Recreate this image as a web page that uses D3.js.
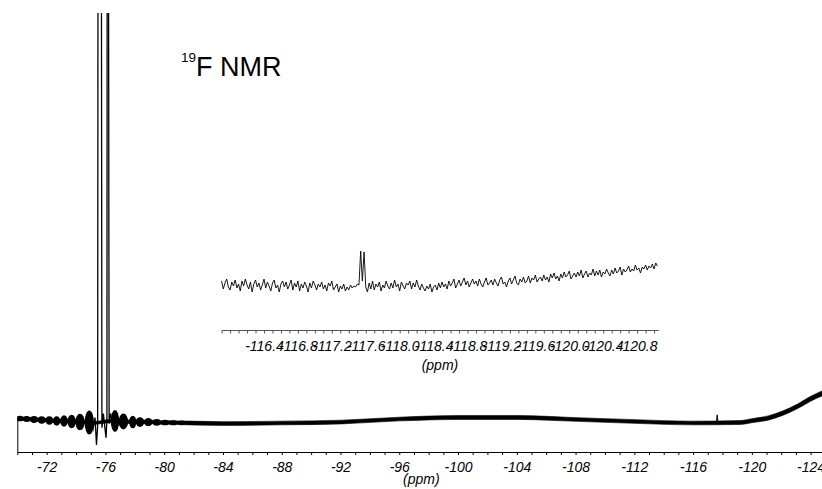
<!DOCTYPE html>
<html>
<head>
<meta charset="utf-8">
<script src="https://cdn.jsdelivr.net/npm/d3@7"></script>
<style>
body { margin: 0; background: #fff; }
text { font-family: "Liberation Sans", Arial, sans-serif; }
</style>
</head>
<body>
<svg id="chart" width="822" height="489"></svg>
<script>
// main spectrum baseline: ppm, centre of trace, half thickness (noise)
var mainPpm = [-70.00, -70.41, -70.88, -71.40, -71.92, -72.43, -72.93, -73.44, -73.98, -74.58,
               -75.15, -75.80, -76.38, -76.94, -77.54, -78.10, -78.62, -79.20, -79.78, -80.33,
               -80.91, -81.76, -84.00, -88.02, -92.10, -96.05, -100.00, -104.08, -108.10, -112.05,
               -116.00, -119.20, -120.09, -121.11, -122.13, -123.15, -123.97, -125.00];
var mainMid = [0.52, 0.42, 0.17, -0.07, -0.32, -0.57, -0.71, -0.81, -1.06, -1.31,
               -1.70, -1.20, -0.71, -0.96, -1.06, -1.21, -1.21, -1.21, -1.45, -1.45,
               -1.55, -1.70, -1.95, -1.70, -1.21, 0.27, 1.01, 1.01, 0.03, -0.96,
               -1.70, -1.45, -0.47, 0.76, 3.23, 6.68, 10.13, 13.59];
var mainHalf = [0.85, 0.85, 0.85, 0.85, 0.85, 0.85, 0.85, 0.85, 0.85, 0.85,
                0.70, 0.70, 0.85, 0.85, 0.85, 0.85, 0.85, 0.85, 0.85, 0.85,
                0.88, 0.94, 0.92, 0.92, 0.92, 0.92, 0.96, 0.96, 0.92, 0.92,
                0.92, 0.96, 1.00, 1.05, 1.10, 1.15, 1.20, 1.25];

// ringing lobes either side of the big signal: ppm, centre, half height
var lobePpm = [-70.18, -70.64, -71.14, -71.66, -72.18, -72.68, -73.18, -73.70, -74.27, -74.90,
               -76.65, -77.22, -77.86, -78.35, -78.92, -79.49, -80.06, -80.62, -81.19];
var lobeMid = [0.52, 0.27, 0.03, -0.22, -0.47, -0.71, -0.71, -0.96, -1.21, -1.45,
               -0.71, -0.96, -1.21, -1.21, -1.21, -1.36, -1.45, -1.55, -1.60];
var lobeHalf = [1.40, 1.45, 1.70, 1.85, 2.05, 2.35, 2.80, 3.30, 4.10, 5.92,
                5.42, 3.90, 3.10, 2.40, 2.00, 1.65, 1.40, 1.25, 1.15];

// the big (off scale) signal around -75.5 / -76.1 ppm
var peakPpm = [-74.95, -75.15, -75.29, -75.39, -75.47, -75.51, -75.70, -75.76, -75.86,
               -75.96, -76.04, -76.10, -76.13, -76.18, -76.25, -76.35, -76.45];
var peakVal = [-1.5, -5, 1, -12.5, -3, 400, 400, -4, 3, -4, -9, 0, 400, 400, -2, 3, -1];

// small signal near -117.6 ppm
var spikePpm = [-117.58, -117.64, -117.70];
var spikeVal = [-1.6, 2.3, -1.6];

var mainTicks = d3.range(-70, -125.5, -1);

// inset: -115.9 .. -121.04 ppm, one value every 0.02 ppm
var insetStart = -115.9, insetStep = -0.02;
var insetVal = [14, 6, 12, 16, 8, 5, 13, 9, 15, 7,
                11, 4, 14, 9, 16, 10, 6, 13, 3, 11,
                15, 8, 12, 5, 10, 16, 7, 13, 9, 4,
                12, 15, 7, 10, 3, 11, 14, 8, 13, 6,
                10, 15, 5, 12, 8, 14, 4, 11, 7, 13,
                9, 3, 12, 7, 14, 10, 5, 11, 8, 13,
                6, 10, 4, 12, 9, 14, 5, 8, 11, 3,
                9, 6, 11, 4, 8, 5, 10, 7, 9, 8,
                11, 10, 44, 14, 43, 8, 3, 12, 6, 14,
                5, 11, 8, 13, 4, 10, 7, 14, 9, 6,
                12, 7, 15, 8, 11, 4, 13, 9, 6, 12,
                10, 14, 6, 12, 8, 15, 9, 5, 11, 7,
                4, 9, 6, 11, 3, 8, 10, 5, 12, 7,
                13, 8, 11, 6, 14, 9, 12, 16, 7, 11,
                15, 9, 13, 17, 10, 14, 8, 12, 16, 11,
                14, 9, 16, 11, 8, 13, 17, 10, 12, 15,
                10, 16, 12, 9, 15, 18, 11, 13, 8, 14,
                17, 11, 15, 19, 12, 10, 16, 13, 18, 12,
                14, 19, 12, 17, 15, 20, 13, 16, 18, 14,
                20, 15, 18, 13, 21, 17, 22, 16, 19, 14,
                21, 17, 23, 18, 20, 24, 16, 19, 22, 18,
                23, 19, 25, 17, 21, 24, 18, 22, 20, 26,
                19, 24, 20, 25, 18, 23, 21, 26, 22, 19,
                25, 21, 27, 22, 24, 28, 20, 26, 23, 25,
                29, 23, 26, 24, 30, 25, 27, 22, 28, 26,
                30, 25, 29, 27, 31, 26, 32, 29];
var insetLabels = ["-116.4", "-116.8", "-117.2", "-117.6", "-118.0", "-118.4",
                   "-118.8", "-119.2", "-119.6", "-120.0", "-120.4", "-120.8"];

var svg = d3.select("#chart");

var x = d3.scaleLinear().domain([-70, -125]).range([17.3, 825.3]);
var y = d3.scaleLinear().domain([-16, 200]).range([452, 14]);

svg.append("defs").append("clipPath")
    .attr("id", "plotclip")
    .append("rect")
    .attr("x", 17.3).attr("y", 13)
    .attr("width", 810).attr("height", 440);

var plot = svg.append("g").attr("clip-path", "url(#plotclip)");

var mainData = mainPpm.map(function(p, i) {
    return {ppm: p, mid: mainMid[i], half: mainHalf[i]};
});

var band = d3.area()
    .x(function(d) { return x(d.ppm); })
    .y0(function(d) { return y(d.mid - d.half); })
    .y1(function(d) { return y(d.mid + d.half); })
    .curve(d3.curveMonotoneX);

plot.append("path")
    .datum(mainData)
    .attr("d", band)
    .attr("fill", "#000")
    .attr("stroke", "#000")
    .attr("stroke-width", 0.6);

// lobes: width taken from the spacing to the neighbouring lobe
var lobes = lobePpm.map(function(p, i) {
    var nb = i < lobePpm.length - 1 && Math.abs(lobePpm[i + 1] - p) < 1 ? lobePpm[i + 1] : lobePpm[i - 1];
    return {ppm: p, mid: lobeMid[i], half: lobeHalf[i], gap: Math.abs(x(nb) - x(p))};
});

plot.selectAll(".lobe")
    .data(lobes)
    .enter()
    .append("ellipse")
    .attr("class", "lobe")
    .attr("cx", function(d) { return x(d.ppm); })
    .attr("cy", function(d) { return y(d.mid); })
    .attr("rx", function(d) { return d.gap * 0.5; })
    .attr("ry", function(d) { return y(d.mid - d.half) - y(d.mid); })
    .attr("fill", "#000");

var trace = d3.line()
    .x(function(d) { return x(d[0]); })
    .y(function(d) { return y(d[1]); });

plot.append("path")
    .datum(d3.zip(peakPpm, peakVal))
    .attr("d", trace)
    .attr("fill", "none")
    .attr("stroke", "#000")
    .attr("stroke-width", 1.3);

plot.append("path")
    .datum(d3.zip(spikePpm, spikeVal))
    .attr("d", trace)
    .attr("fill", "none")
    .attr("stroke", "#000")
    .attr("stroke-width", 1);

// left edge line from axis up to the trace start
svg.append("line")
    .attr("x1", x(-70) + 0.5).attr("x2", x(-70) + 0.5)
    .attr("y1", y(-16)).attr("y2", y(mainMid[0]))
    .attr("stroke", "#000");

var xAxis = d3.axisBottom(x)
    .tickValues(mainTicks)
    .tickSize(3)
    .tickSizeOuter(0)
    .tickPadding(7)
    .tickFormat(function(d) { return d % 4 === 0 ? String(d) : ""; });

var gx = svg.append("g")
    .attr("transform", "translate(0," + 452 + ")")
    .call(xAxis);
gx.selectAll("text")
    .style("font-size", "14px")
    .style("font-style", "italic")
    .attr("fill", "#000");
gx.selectAll("path, line").attr("stroke", "#000");

svg.append("text")
    .attr("x", (x.range()[0] + x.range()[1]) / 2)
    .attr("y", 484)
    .attr("text-anchor", "middle")
    .style("font-size", "14px")
    .style("font-style", "italic")
    .text("(ppm)");

// inset
var xi = d3.scaleLinear().domain([-115.9, -121.05]).range([221.6, 658.3]);
var yi = d3.scaleLinear().domain([0, 50]).range([295, 245]);

var insetData = insetVal.map(function(v, i) {
    return [insetStart + i * insetStep, v];
});

svg.append("path")
    .datum(insetData)
    .attr("d", d3.line()
        .x(function(d) { return xi(d[0]); })
        .y(function(d) { return yi(d[1]); }))
    .attr("fill", "none")
    .attr("stroke", "#000")
    .attr("stroke-width", 0.9);

var insetTicks = d3.range(0, 52).map(function(i) { return +(-115.9 - i * 0.1).toFixed(1); });

var xiAxis = d3.axisBottom(xi)
    .tickValues(insetTicks)
    .tickSize(3.5)
    .tickSizeOuter(0)
    .tickPadding(7.5)
    .tickFormat(function(d) {
        var s = d.toFixed(1);
        return insetLabels.indexOf(s) >= 0 ? s : "";
    });

var gxi = svg.append("g")
    .attr("transform", "translate(0," + 330 + ")")
    .call(xiAxis);
gxi.selectAll("text")
    .style("font-size", "14px")
    .style("font-style", "italic")
    .attr("fill", "#000");
gxi.selectAll("path, line").attr("stroke", "#555");

svg.append("text")
    .attr("x", (xi.range()[0] + xi.range()[1]) / 2)
    .attr("y", 370)
    .attr("text-anchor", "middle")
    .style("font-size", "14px")
    .style("font-style", "italic")
    .text("(ppm)");

// title
var title = svg.append("text")
    .attr("x", 181)
    .attr("y", 76)
    .attr("fill", "#000");
title.append("tspan")
    .attr("dy", -14)
    .style("font-size", "13.5px")
    .text("19");
title.append("tspan")
    .attr("dy", 14)
    .style("font-size", "27px")
    .text("F NMR");
</script>
</body>
</html>
